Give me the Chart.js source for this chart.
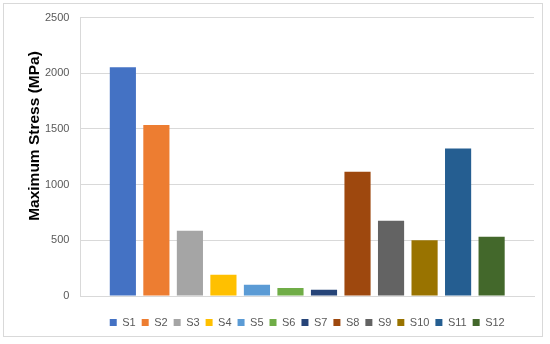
<!DOCTYPE html>
<html>
<head>
<meta charset="utf-8">
<script src="https://cdn.jsdelivr.net/npm/chart.js@4"></script>
<style>
html,body{margin:0;padding:0;background:#fff;}
#wrap{position:relative;width:550px;height:344px;}
#frame{position:absolute;left:3px;top:3px;width:540px;height:334px;border:1px solid #d9d9d9;box-sizing:border-box;}
canvas{position:absolute;left:0;top:0;}
</style>
</head>
<body>
<div id="wrap"><div id="frame"></div><canvas id="c" width="550" height="344"></canvas></div>
<script>
const categories = ['S1','S2','S3','S4','S5','S6','S7','S8','S9','S10','S11','S12'];
const stressValues = [2055, 1535, 585, 190, 100, 72, 57, 1115, 675, 500, 1325, 533];
const colors = ['#4472C4','#ED7D31','#A5A5A5','#FFC000','#5B9BD5','#70AD47','#264478','#9E480E','#636363','#997300','#255E91','#43682B'];
const yTicks = [0, 500, 1000, 1500, 2000, 2500];
const yTitle = 'Maximum Stress (MPa)';

const datasets = categories.map((name, i) => ({
  label: name,
  data: [stressValues[i]],
  backgroundColor: colors[i],
  borderWidth: 0,
  categoryPercentage: 0.887,
  barPercentage: 0.78
}));

const titlePlugin = {
  id: 'yTitle',
  afterLayout(chart) {
    const lg = chart.legend;
    const ca = chart.chartArea;
    const shift = (ca.left + ca.right) / 2 - (lg.left + lg.right) / 2;
    lg.left += shift; lg.right += shift;
  },
  afterDraw(chart) {
    const ctx = chart.ctx;
    ctx.save();
    ctx.translate(38.5, 136);
    ctx.rotate(-Math.PI / 2);
    ctx.font = 'bold 15.5px "Liberation Sans", Arial, sans-serif';
    ctx.fillStyle = '#000000';
    ctx.textAlign = 'center';
    ctx.textBaseline = 'alphabetic';
    ctx.fillText(yTitle, 0, 0);
    ctx.restore();
  }
};

new Chart(document.getElementById('c'), {
  type: 'bar',
  data: { labels: [''], datasets },
  options: {
    responsive: false,
    animation: false,
    devicePixelRatio: 1,
    layout: { padding: { left: 34, right: 16, top: 11, bottom: 6 } },
    plugins: {
      legend: {
        position: 'bottom',
        labels: {
          boxWidth: 7, boxHeight: 7, padding: 6,
          color: '#595959',
          font: { family: '"Liberation Sans", Arial, sans-serif', size: 11 }
        }
      },
      tooltip: { enabled: false },
      title: { display: false }
    },
    scales: {
      x: {
        ticks: { display: false },
        grid: { display: false, drawTicks: false },
        border: { display: true, color: '#d9d9d9', width: 1 },
        afterFit(scale) { scale.height += 15; }
      },
      y: {
        min: 0, max: 2500,
        afterBuildTicks(scale) { scale.ticks = yTicks.map(v => ({ value: v })); },
        ticks: {
          color: '#595959', padding: 11,
          font: { family: '"Liberation Sans", Arial, sans-serif', size: 11 },
          callback: (v) => String(v)
        },
        grid: { color: '#d9d9d9', drawTicks: false },
        border: { display: true, color: '#d9d9d9' }
      }
    }
  },
  plugins: [titlePlugin]
});
</script>
</body>
</html>
